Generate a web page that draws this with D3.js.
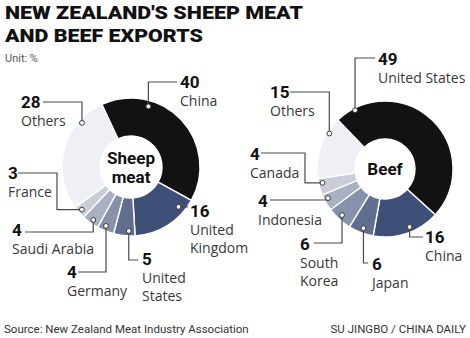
<!DOCTYPE html>
<html><head><meta charset="utf-8">
<script src="https://cdn.jsdelivr.net/npm/d3@7"></script>
<style>
html,body{margin:0;padding:0;background:#fff;}
svg{display:block;}
text{font-family:Roboto,"Noto Sans",sans-serif;}
</style></head>
<body><svg id="c" width="470" height="338"></svg>
<script>
// ---------- data ----------
const titleLines = ["NEW ZEALAND'S SHEEP MEAT", "AND BEEF EXPORTS"];
const unitLabel = "Unit: %";
const sourceLabel = "Source: New Zealand Meat Industry Association";
const creditLabel = "SU JINGBO / CHINA DAILY";

const sheepCategories = ["China", "United Kingdom", "United States", "Germany", "Saudi Arabia", "France", "Others"];
const sheepValues = [40, 16, 5, 4, 4, 3, 28];
const sheepNameLines = [["China"], ["United", "Kingdom"], ["United", "States"], ["Germany"], ["Saudi Arabia"], ["France"], ["Others"]];

const beefCategories = ["United States", "China", "Japan", "South Korea", "Indonesia", "Canada", "Others"];
const beefValues = [49, 16, 6, 6, 4, 4, 15];
const beefNameLines = [["United States"], ["China"], ["Japan"], ["South", "Korea"], ["Indonesia"], ["Canada"], ["Others"]];

// ---------- styling / layout ----------
const sliceColors = ["#121212", "#3e5077", "#606e90", "#8891ab", "#a9b0c4", "#c9cdd9", "#eef0f5"];

const sheepLayout = {
  cx: 131, cy: 167, r0: 31, r1: 69, start: -25, label: ["Sheep", "meat"],
  // marker [angleDeg, radius], leader path steps, label x, number baseline
  ann: [
    {m: [16, 63], path: [["V", 82], ["H", 177]], x: 180, y: 88},
    {m: [130, 62], path: [["H", 188]], x: 190, y: 217},
    {m: [182, 64], path: [["V", 260], ["H", 138]], x: 142, y: 265},
    {m: [203, 64], path: [["V", 272], ["H", 78]], x: 67, y: 278},
    {m: [215.5, 65], path: [["V", 232], ["H", 25]], x: 12, y: 236},
    {m: [229, 65], path: [["H", 57], ["V", 173], ["H", 18]], x: 8, y: 179},
    {m: [312, 66], path: [["V", 102], ["H", 43]], x: 21, y: 108}
  ]
};
const beefLayout = {
  cx: 385, cy: 169, r0: 30, r1: 68, start: -44, label: ["Beef"],
  ann: [
    {m: [-27, 66], path: [["V", 58], ["H", 375]], x: 378, y: 65},
    {m: [157, 63], path: [["V", 237], ["H", 423]], x: 425, y: 243},
    {m: [200, 63], path: [["V", 263], ["H", 368]], x: 372, y: 270},
    {m: [223, 63], path: [["V", 243], ["H", 314]], x: 300, y: 250},
    {m: [243, 64], path: [["V", 200], ["H", 270]], x: 258, y: 207},
    {m: [257.5, 64], path: [["H", 305], ["V", 153], ["H", 261]], x: 250, y: 160},
    {m: [302.5, 66], path: [["V", 92], ["H", 290]], x: 270, y: 98}
  ]
};

const svg = d3.select("#c");

// title
svg.append("g").selectAll("text").data(titleLines).join("text")
  .attr("x", 5).attr("y", (d, i) => 18.5 + i * 23.5)
  .attr("textLength", (d, i) => i === 0 ? 298 : 198)
  .attr("lengthAdjust", "spacingAndGlyphs")
  .style("font-size", "18.5px").style("font-weight", 900).attr("fill", "#111")
  .text(d => d);

svg.append("text").attr("x", 5).attr("y", 62).style("font-size", "11px")
  .attr("fill", "#555").text(unitLabel);

svg.append("text").attr("x", 4).attr("y", 333).style("font-size", "11.5px")
  .attr("fill", "#333").text(sourceLabel);
svg.append("text").attr("x", 466).attr("y", 333).attr("text-anchor", "end").style("font-size", "11.5px")
  .attr("fill", "#333").text(creditLabel);

function donut(cats, vals, names, L) {
  const g = svg.append("g");
  const rad = Math.PI / 180;
  const pie = d3.pie().sort(null).value(d => d.v)
    .startAngle(L.start * rad).endAngle((L.start + 360) * rad);
  const data = cats.map((c, i) => ({c, v: vals[i], i}));
  const arcs = pie(data);
  const arc = d3.arc().innerRadius(L.r0).outerRadius(L.r1);
  const cg = g.append("g").attr("transform", `translate(${L.cx},${L.cy})`);
  cg.selectAll("path").data(arcs).join("path")
    .attr("d", arc).attr("fill", d => sliceColors[d.index])
    .attr("stroke", "#fff").attr("stroke-width", 1.4).attr("stroke-linejoin", "round");

  // center label
  const n = L.label.length;
  cg.selectAll("text.center").data(L.label).join("text").attr("class", "center")
    .attr("text-anchor", "middle")
    .attr("y", (d, i) => (i - (n - 1) / 2) * 19 + 6)
    .style("font-size", "17px").style("font-weight", 700).attr("fill", "#111")
    .text(d => d);

  // annotations
  arcs.forEach((a, i) => {
    const an = L.ann[i];
    const ang = an.m[0] * rad;
    const mx = L.cx + an.m[1] * Math.sin(ang);
    const my = L.cy - an.m[1] * Math.cos(ang);
    let d = `M${mx},${my}`;
    an.path.forEach(s => { d += s[0] + s[1]; });
    g.append("path").attr("d", d).attr("fill", "none")
      .attr("stroke", "#4a4a4a").attr("stroke-width", 1.2);
    g.append("circle").attr("cx", mx).attr("cy", my).attr("r", 2.4)
      .attr("fill", "#fff").attr("stroke", "#3a3a3a").attr("stroke-width", 1);
    g.append("text").attr("x", an.x).attr("y", an.y)
      .style("font-size", "17px").style("font-weight", 700).attr("fill", "#111")
      .text(a.data.v);
    names[i].forEach((t, k) => {
      g.append("text").attr("x", an.x).attr("y", an.y + 18 + k * 17.5)
        .style("font-family", "'Open Sans',Roboto,sans-serif")
        .style("font-size", "14px").attr("fill", "#383838").text(t);
    });
  });
}

donut(sheepCategories, sheepValues, sheepNameLines, sheepLayout);
donut(beefCategories, beefValues, beefNameLines, beefLayout);
</script></body></html>
